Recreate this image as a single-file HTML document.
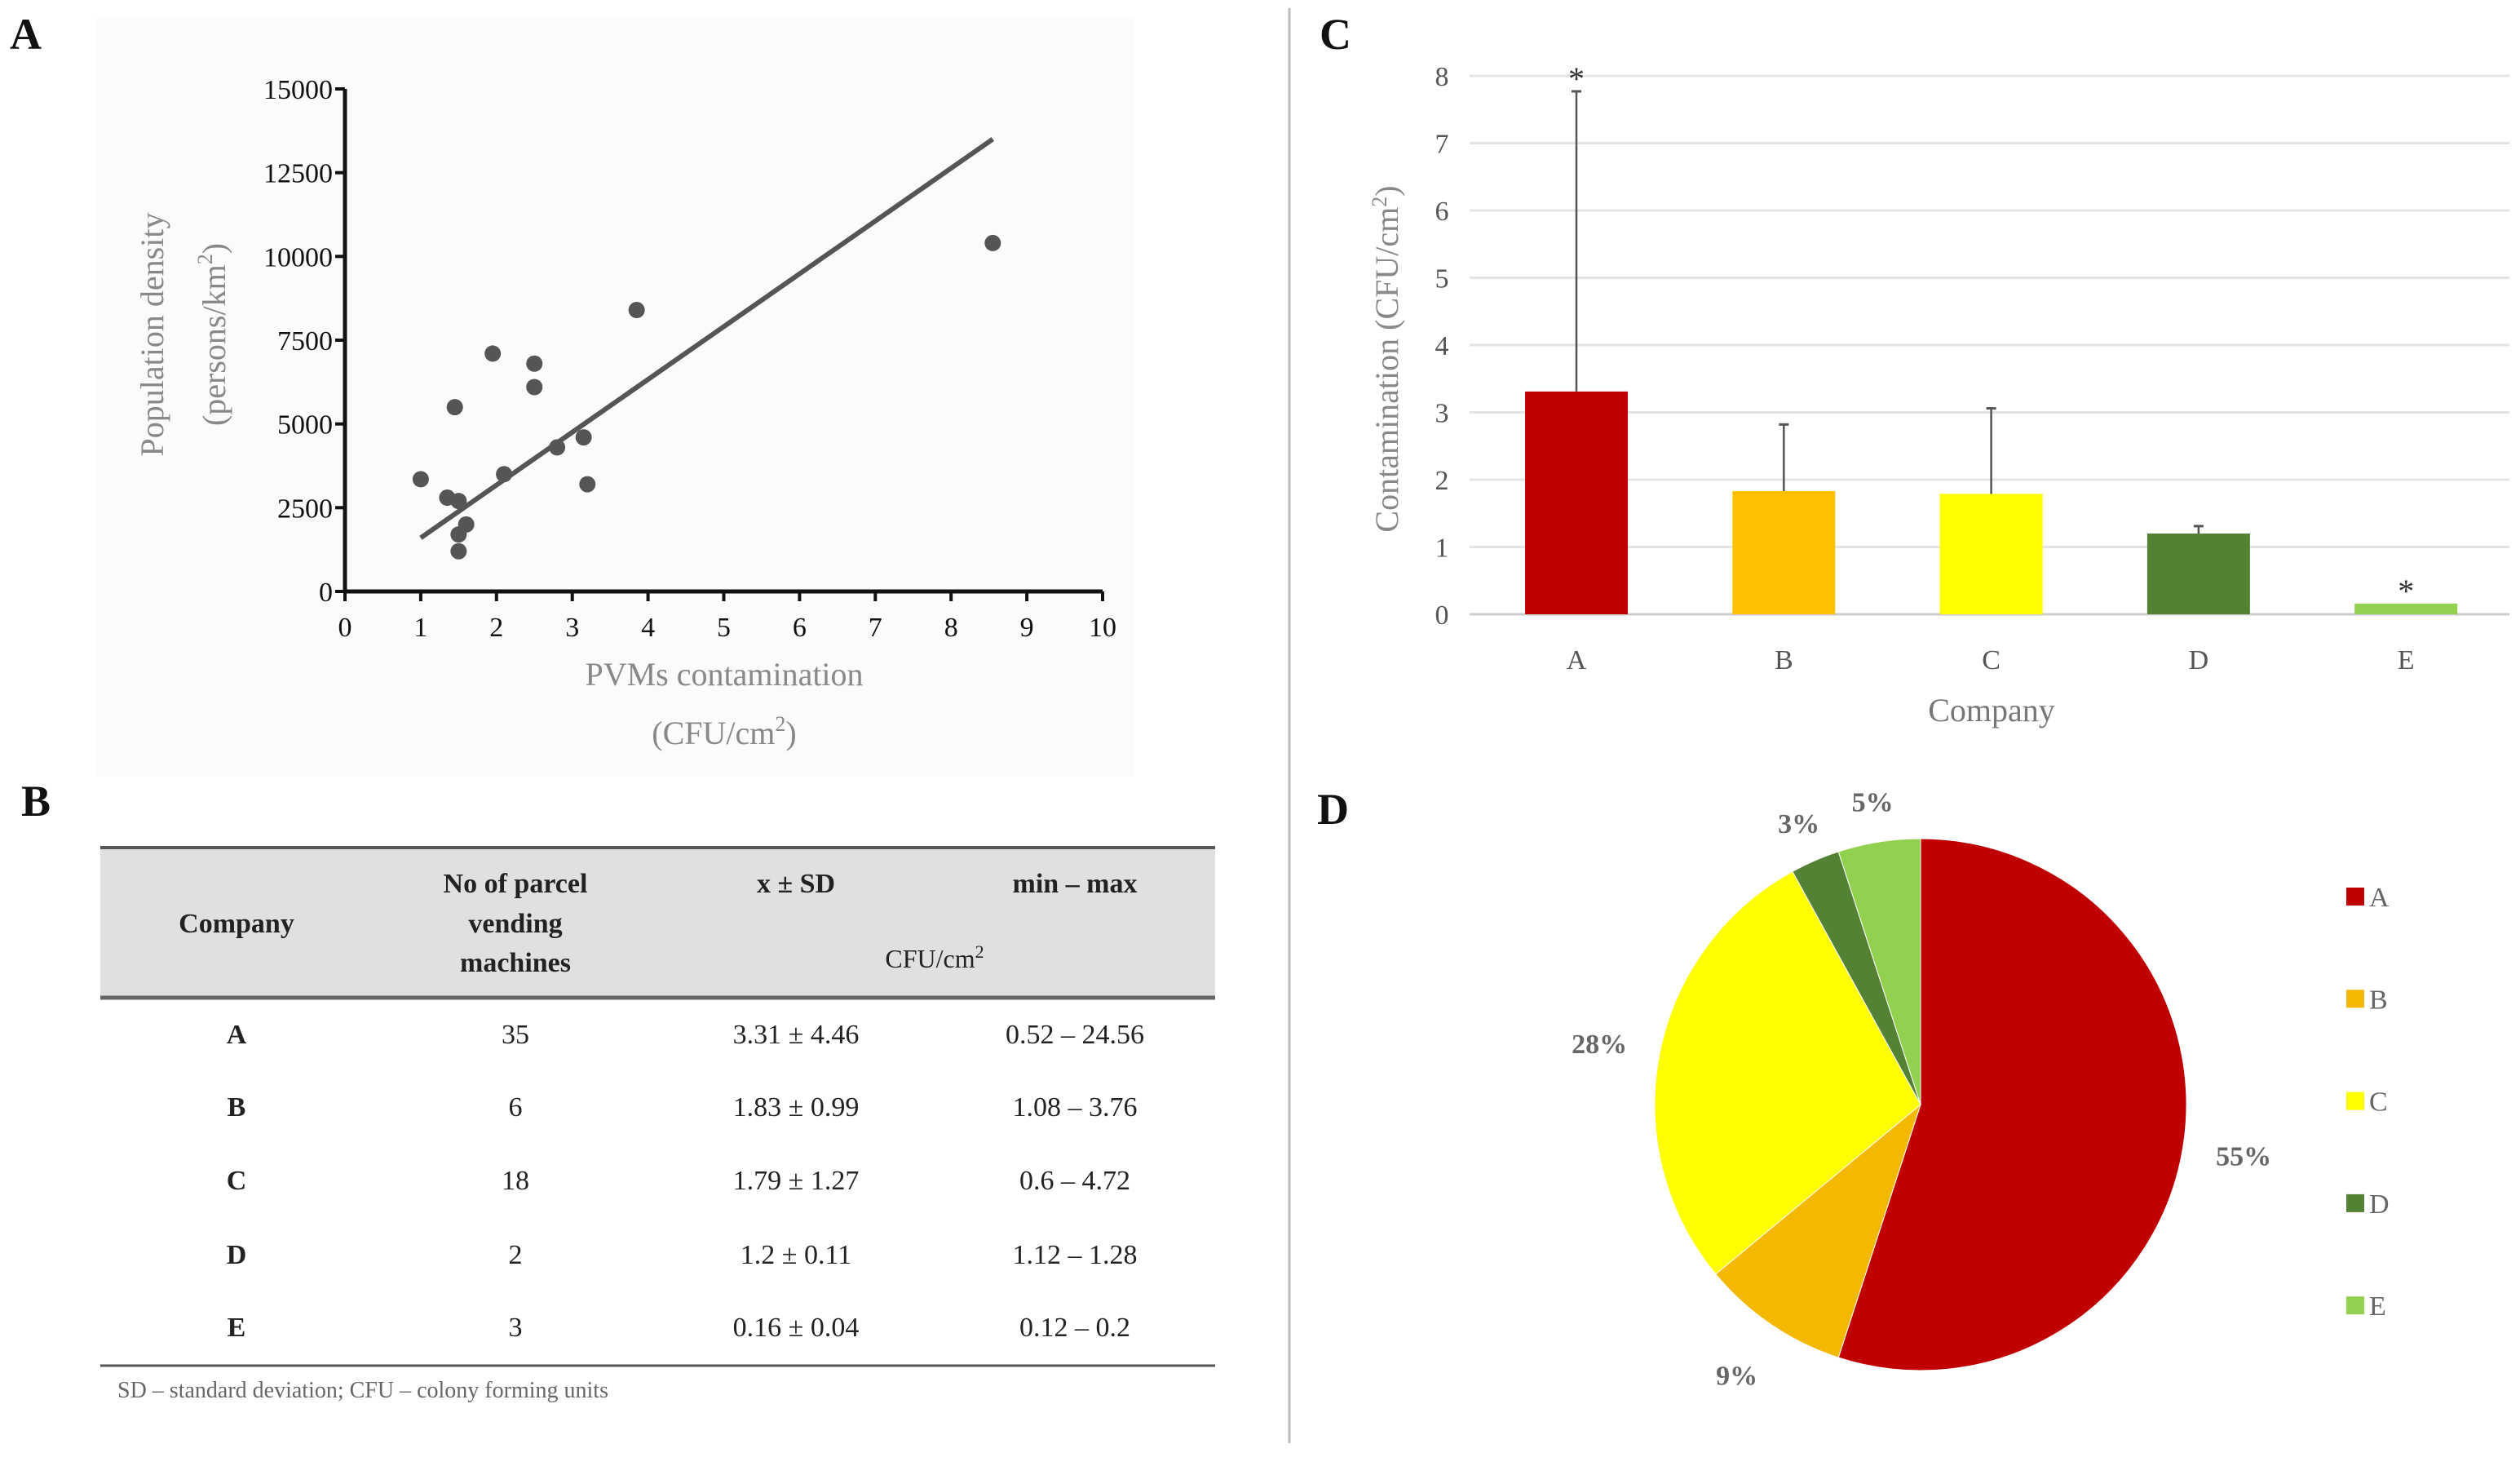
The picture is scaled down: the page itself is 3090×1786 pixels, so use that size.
<!DOCTYPE html>
<html><head><meta charset="utf-8"><style>
html,body{margin:0;padding:0;background:#fff;}
svg{display:block;}
text{font-family:"Liberation Serif",serif;}
</style></head><body>
<svg id="fig" width="3090" height="1786" viewBox="0 0 3090 1786" xmlns="http://www.w3.org/2000/svg">
<rect x="118" y="22" width="1272" height="930" fill="#fbfbfb"/>
<g id="panelA"></g>
<g id="panelB"></g>
<line x1="1581" y1="10" x2="1581" y2="1769" stroke="#bbb" stroke-width="3"/>
<g id="panelC"></g>
<g id="panelD"></g>
</svg>
<script>
const NS="http://www.w3.org/2000/svg";
// Panel A data
const scatterX=[1,1.35,1.5,1.45,1.5,1.6,1.5,1.95,2.1,2.5,2.5,2.8,3.15,3.2,3.85,8.55];
const scatterY=[3350,2800,2700,5500,1700,2000,1200,7100,3500,6800,6100,4300,4600,3200,8400,10400];
const trendX=[1,8.55];
const trendY=[1600,13500];
const aXTicks=[0,1,2,3,4,5,6,7,8,9,10];
const aYTicks=[0,2500,5000,7500,10000,12500,15000];
// Panel C data
const companies=["A","B","C","D","E"];
const means=[3.31,1.83,1.79,1.2,0.16];
const sds=[4.46,0.99,1.27,0.11,0.04];
const barColors=["#c00000","#ffc000","#ffff00","#548235","#92d050"];
const cYTicks=[0,1,2,3,4,5,6,7,8];
// Panel D data
const shares=[55,9,28,3,5];
const pieColors=["#c00000","#f5b800","#ffff00","#548235","#92d050"];
// Table data
const tCompanies=["A","B","C","D","E"];
const tCounts=["35","6","18","2","3"];
const tMeanSd=["3.31 ± 4.46","1.83 ± 0.99","1.79 ± 1.27","1.2 ± 0.11","0.16 ± 0.04"];
const tMinMax=["0.52 – 24.56","1.08 – 3.76","0.6 – 4.72","1.12 – 1.28","0.12 – 0.2"];

function mk(tag,attrs,parent,txt){const e=document.createElementNS(NS,tag);for(const k in attrs)e.setAttribute(k,attrs[k]);if(txt!==undefined)e.textContent=txt;parent.appendChild(e);return e;}
const svg=document.getElementById('fig');

[["A",12,60],["B",26,1000],["C",1618,60],["D",1615,1010]].forEach(l=>{
 const t=mk('text',{x:l[1],y:l[2],'font-size':54,'font-weight':'bold',fill:'#111'},svg,l[0]);
 
 
});

// ---------- Panel A ----------
const A=document.getElementById('panelA');
const ax=v=>423+v*92.9, ay=v=>725-v*(616/15000);
mk('line',{x1:423,y1:ay(15000),x2:423,y2:725,stroke:'#111','stroke-width':5},A);
mk('line',{x1:423,y1:725,x2:ax(10),y2:725,stroke:'#111','stroke-width':5},A);
aXTicks.forEach(v=>{
 mk('line',{x1:ax(v),y1:725,x2:ax(v),y2:737,stroke:'#111','stroke-width':4},A);
 const t=mk('text',{x:ax(v),y:780,'font-size':34,'text-anchor':'middle',fill:'#111','font-family':'Liberation Sans Narrow, Liberation Sans, sans-serif'},A,String(v));
 
 
});
aYTicks.forEach(v=>{
 mk('line',{x1:411,y1:ay(v),x2:423,y2:ay(v),stroke:'#111','stroke-width':4},A);
 const t=mk('text',{x:408,y:ay(v)+12,'font-size':34,'text-anchor':'end',fill:'#111','font-family':'Liberation Sans Narrow, Liberation Sans, sans-serif'},A,String(v));
 
 
});
const tl=mk('line',{x1:ax(trendX[0]),y1:ay(trendY[0]),x2:ax(trendX[1]),y2:ay(trendY[1]),stroke:'#555','stroke-width':6},A);


scatterX.forEach((x,i)=>{
 const c=mk('circle',{cx:ax(x),cy:ay(scatterY[i]),r:10,fill:'#555'},A);
 
 
});
let t=mk('text',{x:888,y:840,'font-size':40,'text-anchor':'middle',fill:'#888'},A,'PVMs contamination');

t=mk('text',{x:888,y:912,'font-size':40,'text-anchor':'middle',fill:'#888'},A);
t.innerHTML='(CFU/cm<tspan dy="-16" font-size="26">2</tspan><tspan dy="16">)</tspan>';

t=mk('text',{x:0,y:0,'font-size':40,'text-anchor':'middle',fill:'#888',transform:'translate(200,410) rotate(-90)'},A,'Population density');

t=mk('text',{x:0,y:0,'font-size':40,'text-anchor':'middle',fill:'#888',transform:'translate(276,410) rotate(-90)'},A);
t.innerHTML='(persons/km<tspan dy="-16" font-size="26">2</tspan><tspan dy="16">)</tspan>';


// ---------- Panel B table ----------
const B=document.getElementById('panelB');
mk('rect',{x:123,y:1039,width:1367,height:184,fill:'#e0e0e0'},B);
mk('line',{x1:123,y1:1039,x2:1490,y2:1039,stroke:'#555','stroke-width':4},B);
mk('line',{x1:123,y1:1223,x2:1490,y2:1223,stroke:'#666','stroke-width':5},B);
mk('line',{x1:123,y1:1674,x2:1490,y2:1674,stroke:'#555','stroke-width':3},B);
const cols=[290,632,976,1318];
[["Company",290,1143],["No of parcel",632,1094],["vending",632,1143],["machines",632,1191],["x ± SD",976,1094],["min – max",1318,1094]].forEach(h=>{
 const e=mk('text',{x:h[1],y:h[2],'font-size':34,'font-weight':'bold','text-anchor':'middle',fill:'#222'},B,h[0]);
 
 
});
t=mk('text',{x:1146,y:1186,'font-size':32,'text-anchor':'middle',fill:'#222'},B);
t.innerHTML='CFU/cm<tspan dy="-12" font-size="22">2</tspan>';

const rowY=[1279,1368,1458,1549,1638];
tCompanies.forEach((c,i)=>{
 [[c,cols[0],'bold'],[tCounts[i],cols[1],'normal'],[tMeanSd[i],cols[2],'normal'],[tMinMax[i],cols[3],'normal']].forEach(cell=>{
  const e=mk('text',{x:cell[1],y:rowY[i],'font-size':34,'font-weight':cell[2],'text-anchor':'middle',fill:'#222'},B,cell[0]);
  
  
 });
});
t=mk('text',{x:144,y:1713,'font-size':28,fill:'#666'},B,'SD – standard deviation; CFU – colony forming units');


// ---------- Panel C ----------
const C=document.getElementById('panelC');
const cy=v=>753-v*82.5;
const cx=i=>1933+i*254.3;
cYTicks.forEach(v=>{
 mk('line',{x1:1802,y1:cy(v),x2:3077,y2:cy(v),stroke:v===0?'#ccc':'#e4e4e4','stroke-width':3},C);
 const e=mk('text',{x:1768,y:cy(v)+12,'font-size':34,'text-anchor':'middle',fill:'#555'},C,String(v));
 
 
});
companies.forEach((c,i)=>{
 const r=mk('rect',{x:cx(i)-63,y:cy(means[i]),width:126,height:cy(0)-cy(means[i]),fill:barColors[i]},C);
 
 
 if(i<4){
  const top=Math.min(means[i]+sds[i],7.77);
  mk('line',{x1:cx(i),y1:cy(means[i]),x2:cx(i),y2:cy(top),stroke:'#555','stroke-width':2.5},C);
  mk('line',{x1:cx(i)-6,y1:cy(top),x2:cx(i)+6,y2:cy(top),stroke:'#555','stroke-width':3},C);
 }
 const e=mk('text',{x:cx(i),y:820,'font-size':34,'text-anchor':'middle',fill:'#555'},C,c);
 
 
});
[[0,7.77],[4,means[4]]].forEach(s=>{
 const e=mk('text',{x:cx(s[0]),y:cy(s[1])-2,'font-size':40,'text-anchor':'middle',fill:'#333'},C,'*');
 
 
});
t=mk('text',{x:2442,y:884,'font-size':40,'text-anchor':'middle',fill:'#777'},C,'Company');

t=mk('text',{x:0,y:0,'font-size':40,'text-anchor':'middle',fill:'#888',transform:'translate(1714,440) rotate(-90)'},C);
t.innerHTML='Contamination (CFU/cm<tspan dy="-14" font-size="26">2</tspan><tspan dy="14">)</tspan>';


// ---------- Panel D ----------
const D=document.getElementById('panelD');
const pcx=2355,pcy=1354,pr=326;
const total=shares.reduce((a,b)=>a+b,0);
let acc=0;
shares.forEach((s,i)=>{
 const a0=acc/total*2*Math.PI,a1=(acc+s)/total*2*Math.PI;acc+=s;
 const p=a=>[pcx+pr*Math.sin(a),pcy-pr*Math.cos(a)];
 const [x0,y0]=p(a0),[x1,y1]=p(a1);
 const large=(a1-a0)>Math.PI?1:0;
 const path=mk('path',{d:`M${pcx},${pcy} L${x0},${y0} A${pr},${pr} 0 ${large} 1 ${x1},${y1} Z`,fill:pieColors[i],stroke:'#fff','stroke-width':1},D);
 
 
 const am=(a0+a1)/2;
 const rr=(s<6)?pr+50:pr+75;
 const e=mk('text',{x:pcx+rr*Math.sin(am),y:pcy-rr*Math.cos(am)+12,'font-size':34,'font-weight':'bold','text-anchor':'middle',fill:'#666'},D,s+'%');
 
 
});
companies.forEach((c,i)=>{
 const y=1099+i*125.3;
 const r=mk('rect',{x:2877,y:y-11,width:22,height:22,fill:pieColors[i]},D);
 
 
 const e=mk('text',{x:2905,y:y+12,'font-size':34,fill:'#666'},D,c);
 
 
});
</script>
</body></html>
